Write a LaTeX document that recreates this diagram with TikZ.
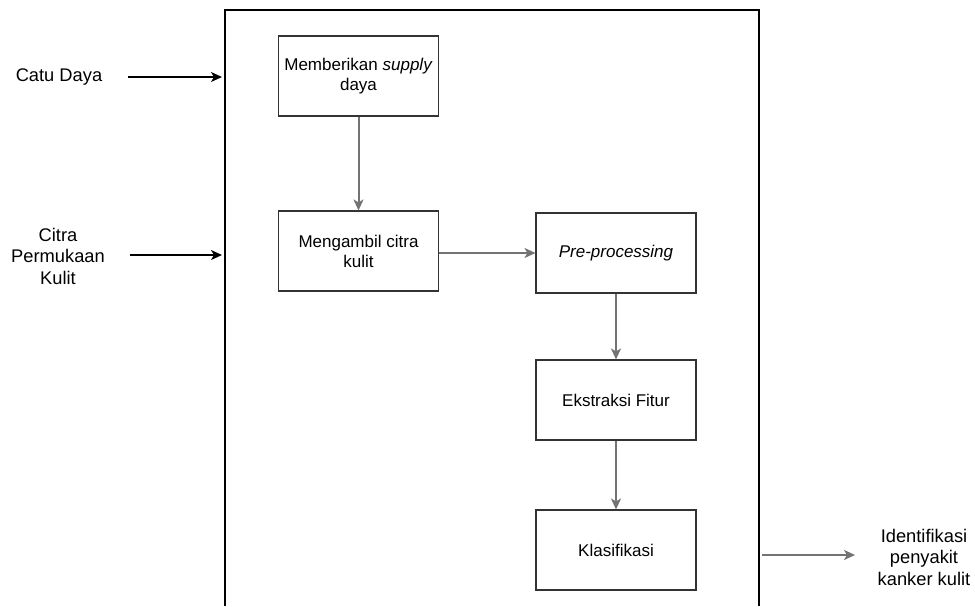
\documentclass[tikz,border=0pt]{standalone}
\usepackage{fontspec}
\setmainfont{Liberation Sans}
\usetikzlibrary{arrows.meta}
\begin{document}
\begin{tikzpicture}[x=1pt,y=-1pt,
  blk/.style={draw=black!80, line width=1.1pt, minimum width=160pt, minimum height=80pt, inner sep=2pt, align=center, font=\fontsize{17}{20}\selectfont},
  lbl/.style={align=center, font=\fontsize{18.3}{21.5}\selectfont},
  grayconn/.style={-{Stealth[length=11pt,width=10pt,inset=3pt]}, color=black!55, line width=2pt},
  blackconn/.style={-{Stealth[length=11pt,width=10pt,inset=3pt]}, color=black, line width=1.4pt}
]
\useasboundingbox (0,0) rectangle (975,606);
\draw[line width=1.1pt] (225,606) -- (225,10) -- (759,10) -- (759,606);
\node[blk] (b1) at (358.5,76) {Memberikan \textit{supply}\\daya};
\node[blk] (b2) at (358.5,251) {Mengambil citra\\kulit};
\node[blk] (b3) at (616,253) {\textit{Pre-processing}};
\node[blk] (b4) at (616,400) {Ekstraksi Fitur};
\node[blk] (b5) at (616,550) {Klasifikasi};
\node[lbl] (catu) at (59,77) {Catu Daya};
\node[lbl] (citra) at (58,256) {Citra\\Permukaan\\Kulit};
\node[lbl] (ident) at (924,557) {Identifikasi\\penyakit\\kanker kulit};
\coordinate (c1s) at (128,77);
\coordinate (c1e) at (222,77);
\coordinate (c2s) at (130,255);
\coordinate (c2e) at (222,255);
\coordinate (os) at (762,555);
\coordinate (oe) at (855,555);
\draw[blackconn] (c1s) -- (c1e);
\draw[blackconn] (c2s) -- (c2e);
\draw[grayconn] (b1) -- (b2);
\draw[grayconn] (b2.east |- b3) -- (b3);
\draw[grayconn] (b3) -- (b4);
\draw[grayconn] (b4) -- (b5);
\draw[grayconn] (os) -- (oe);
\end{tikzpicture}
\end{document}
